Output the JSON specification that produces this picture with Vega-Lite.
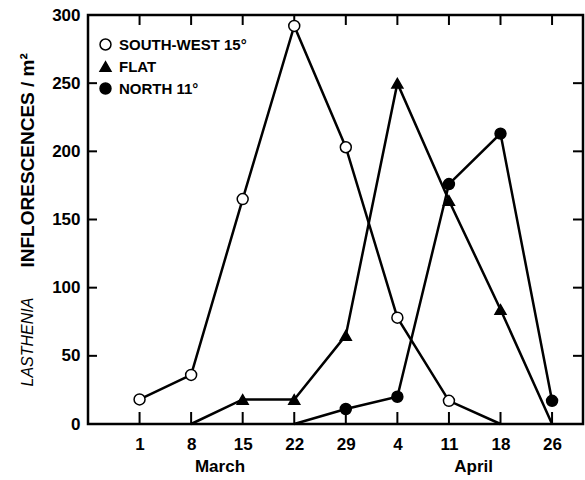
{
  "$schema": "https://vega.github.io/schema/vega-lite/v6.json",
  "width": 495,
  "height": 409,
  "autosize": "none",
  "padding": {"left": 88, "top": 15, "right": 2, "bottom": 56},
  "background": "white",
  "config": {
    "view": {"stroke": "black", "strokeWidth": 2.5},
    "axis": {
      "domain": false,
      "ticks": false,
      "grid": false,
      "labelFont": "Liberation Sans",
      "labelFontWeight": "bold",
      "labelFontSize": 17,
      "labelColor": "black",
      "titleFont": "Liberation Sans",
      "titleColor": "black"
    },
    "legend": {
      "labelFont": "Liberation Sans",
      "labelFontWeight": "bold",
      "labelFontSize": 15,
      "labelColor": "black"
    }
  },
  "datasets": {
    "counts": [
      {"series": "SOUTH-WEST 15°", "date": "Mar 1", "idx": 0, "v": 18},
      {"series": "SOUTH-WEST 15°", "date": "Mar 8", "idx": 1, "v": 36},
      {"series": "SOUTH-WEST 15°", "date": "Mar 15", "idx": 2, "v": 165},
      {"series": "SOUTH-WEST 15°", "date": "Mar 22", "idx": 3, "v": 292},
      {"series": "SOUTH-WEST 15°", "date": "Mar 29", "idx": 4, "v": 203},
      {"series": "SOUTH-WEST 15°", "date": "Apr 4", "idx": 5, "v": 78},
      {"series": "SOUTH-WEST 15°", "date": "Apr 11", "idx": 6, "v": 17},
      {"series": "SOUTH-WEST 15°", "date": "Apr 18", "idx": 7, "v": 0},
      {"series": "FLAT", "date": "Mar 8", "idx": 1, "v": 0},
      {"series": "FLAT", "date": "Mar 15", "idx": 2, "v": 18},
      {"series": "FLAT", "date": "Mar 22", "idx": 3, "v": 18},
      {"series": "FLAT", "date": "Mar 29", "idx": 4, "v": 65},
      {"series": "FLAT", "date": "Apr 4", "idx": 5, "v": 250},
      {"series": "FLAT", "date": "Apr 11", "idx": 6, "v": 164},
      {"series": "FLAT", "date": "Apr 18", "idx": 7, "v": 84},
      {"series": "FLAT", "date": "Apr 26", "idx": 8, "v": 0},
      {"series": "NORTH 11°", "date": "Mar 22", "idx": 3, "v": 0},
      {"series": "NORTH 11°", "date": "Mar 29", "idx": 4, "v": 11},
      {"series": "NORTH 11°", "date": "Apr 4", "idx": 5, "v": 20},
      {"series": "NORTH 11°", "date": "Apr 11", "idx": 6, "v": 176},
      {"series": "NORTH 11°", "date": "Apr 18", "idx": 7, "v": 213},
      {"series": "NORTH 11°", "date": "Apr 26", "idx": 8, "v": 17}
    ],
    "yTicks": [
      {"v": 0}, {"v": 50}, {"v": 100}, {"v": 150}, {"v": 200}, {"v": 250}, {"v": 300}
    ]
  },
  "data": {"name": "counts"},
  "layer": [
    {
      "mark": {"type": "line", "color": "black", "strokeWidth": 2.5},
      "encoding": {
        "x": {
          "field": "idx",
          "type": "quantitative",
          "scale": {"domain": [-1, 8.6], "nice": false, "zero": false},
          "axis": {
            "orient": "bottom",
            "title": null,
            "values": [0, 1, 2, 3, 4, 5, 6, 7, 8, 1.55, 6.47],
            "labelExpr": "datum.value == 1.55 ? 'March' : datum.value == 6.47 ? 'April' : ['1','8','15','22','29','4','11','18','26'][datum.value]",
            "labelOverlap": false,
            "labelFlush": false,
            "labelPadding": {"condition": {"test": "datum.value == 1.55 || datum.value == 6.47", "value": 34}, "value": 12}
          }
        },
        "y": {
          "field": "v",
          "type": "quantitative",
          "scale": {"domain": [0, 300], "nice": false},
          "axis": {
            "orient": "left",
            "values": [0, 50, 100, 150, 200, 250, 300],
            "labelPadding": 8,
            "title": "INFLORESCENCES / m²",
            "titleFontSize": 19,
            "titleFontWeight": "bold",
            "titleAngle": -90,
            "titleAlign": "left",
            "titleBaseline": "middle",
            "titleX": -61,
            "titleY": 252
          }
        },
        "detail": {"field": "series"}
      }
    },
    {
      "transform": [{"aggregate": [], "groupby": ["idx"]}],
      "mark": {"type": "tick", "orient": "vertical", "color": "black", "thickness": 2, "size": 24, "clip": true, "opacity": 1},
      "encoding": {
        "x": {"field": "idx", "type": "quantitative", "axis": null},
        "y": {"datum": 0, "type": "quantitative", "axis": null}
      }
    },
    {
      "transform": [{"aggregate": [], "groupby": ["idx"]}],
      "mark": {"type": "tick", "orient": "vertical", "color": "black", "thickness": 2, "size": 20, "clip": true, "opacity": 1},
      "encoding": {
        "x": {"field": "idx", "type": "quantitative", "axis": null},
        "y": {"datum": 300, "type": "quantitative", "axis": null}
      }
    },
    {
      "data": {"name": "yTicks"},
      "mark": {"type": "tick", "orient": "horizontal", "color": "black", "thickness": 2, "size": 18, "clip": true, "opacity": 1},
      "encoding": {
        "x": {"datum": -1, "type": "quantitative", "axis": null},
        "y": {"field": "v", "type": "quantitative", "axis": null}
      }
    },
    {
      "data": {"name": "yTicks"},
      "mark": {"type": "tick", "orient": "horizontal", "color": "black", "thickness": 2, "size": 20, "clip": true, "opacity": 1},
      "encoding": {
        "x": {"datum": 8.6, "type": "quantitative", "axis": null},
        "y": {"field": "v", "type": "quantitative", "axis": null}
      }
    },
    {
      "transform": [{"filter": "datum.v > 0"}],
      "mark": {"type": "point", "filled": true, "strokeWidth": 1.5, "opacity": 1, "size": 120},
      "encoding": {
        "x": {
          "field": "idx",
          "type": "quantitative",
          "axis": {
            "orient": "top",
            "labels": false,
            "title": "LASTHENIA",
            "titleFontSize": 16,
            "titleFontWeight": "normal",
            "titleFontStyle": "italic",
            "titleAngle": -90,
            "titleAlign": "left",
            "titleBaseline": "middle",
            "titleX": -61,
            "titleY": 371
          }
        },
        "y": {
          "field": "v",
          "type": "quantitative",
          "axis": null
        },
        "shape": {
          "field": "series",
          "type": "nominal",
          "scale": {"domain": ["SOUTH-WEST 15°", "FLAT", "NORTH 11°"], "range": ["circle", "triangle-up", "circle"]},
          "legend": {
            "title": null,
            "orient": "none",
            "legendX": 10,
            "legendY": 22,
            "padding": 0,
            "symbolSize": 120,
            "symbolStrokeWidth": 1.5,
            "rowPadding": 5,
            "labelOffset": 6
          }
        },
        "fill": {
          "field": "series",
          "type": "nominal",
          "scale": {"domain": ["SOUTH-WEST 15°", "FLAT", "NORTH 11°"], "range": ["white", "black", "black"]},
          "legend": {
            "title": null,
            "orient": "none",
            "legendX": 10,
            "legendY": 22,
            "padding": 0,
            "symbolSize": 120,
            "symbolStrokeWidth": 1.5,
            "rowPadding": 5,
            "labelOffset": 6
          }
        },
        "stroke": {
          "field": "series",
          "type": "nominal",
          "scale": {"domain": ["SOUTH-WEST 15°", "FLAT", "NORTH 11°"], "range": ["black", "black", "black"]},
          "legend": {
            "title": null,
            "orient": "none",
            "legendX": 10,
            "legendY": 22,
            "padding": 0,
            "symbolSize": 120,
            "symbolStrokeWidth": 1.5,
            "rowPadding": 5,
            "labelOffset": 6
          }
        }
      }
    }
  ],
  "resolve": {"axis": {"x": "independent", "y": "independent"}}
}
